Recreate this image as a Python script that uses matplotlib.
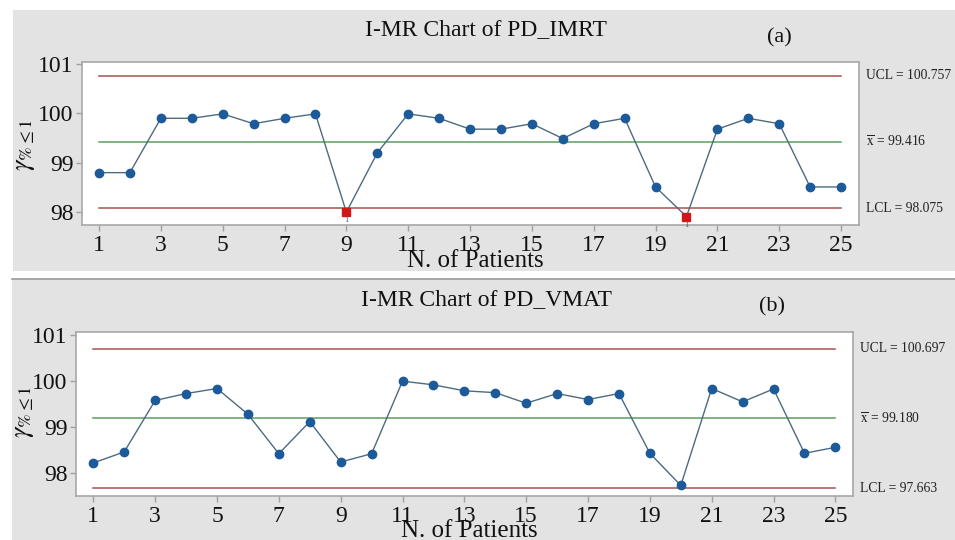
import matplotlib
matplotlib.use("Agg")
import matplotlib.pyplot as plt
from matplotlib.patches import Rectangle
import numpy as np

patients = list(range(1, 26))
imrt_values = [98.80, 98.80, 99.90, 99.90, 99.99, 99.79, 99.90, 99.99, 98.00, 99.20,
               99.99, 99.90, 99.68, 99.68, 99.79, 99.49, 99.79, 99.90, 98.51, 97.91,
               99.68, 99.90, 99.79, 98.51, 98.51]
vmat_values = [98.21, 98.45, 99.57, 99.72, 99.83, 99.27, 98.41, 99.11, 98.23, 98.41,
               99.99, 99.91, 99.78, 99.74, 99.51, 99.72, 99.59, 99.72, 98.42, 97.72,
               99.83, 99.54, 99.82, 98.42, 98.55]
imrt_limits = {"UCL": 100.757, "mean": 99.416, "LCL": 98.075}
vmat_limits = {"UCL": 100.697, "mean": 99.180, "LCL": 97.663}
imrt_out = [9, 20]
vmat_out = []
xticks = list(range(1, 26, 2))
yticks = [98, 99, 100, 101]
titles = ["I-MR Chart of PD_IMRT", "I-MR Chart of PD_VMAT"]
tags = ["(a)", "(b)"]

plt.rcParams["font.family"] = ["Liberation Serif", "DejaVu Serif"]
plt.rcParams["mathtext.fontset"] = "stix"

W, H = 955, 540
fig = plt.figure(figsize=(W / 100, H / 100), dpi=100)
fig.patch.set_facecolor("white")

def fx(px):
    return px / W

def fy(py):
    return 1 - py / H

bg = "#e3e3e3"
fig.patches.append(Rectangle((fx(13), fy(271)), fx(955 - 13), (271 - 10) / H,
                             transform=fig.transFigure, facecolor=bg, edgecolor="none", zorder=-10))
fig.patches.append(Rectangle((fx(12), 0), fx(955 - 12), (540 - 279) / H,
                             transform=fig.transFigure, facecolor=bg, edgecolor="none", zorder=-10))
fig.lines.append(plt.Line2D([fx(12), 1], [fy(279), fy(279)], transform=fig.transFigure,
                            color="#9a9a9a", lw=1.2))

panels = [
    dict(vals=imrt_values, lim=imrt_limits, out=imrt_out,
         box=(82, 62, 859, 225), xlim=(0.45, 25.58), ylim=(97.74, 101.04),
         title_xy=(486, 30), tag_xy=(779, 38), label_x=866,
         xlabel_xy=(475, 261), ylabel_xy=(26, 145)),
    dict(vals=vmat_values, lim=vmat_limits, out=vmat_out,
         box=(76, 332, 853, 496), xlim=(0.44, 25.57), ylim=(97.49, 101.06),
         title_xy=(486, 300), tag_xy=(772, 307), label_x=860,
         xlabel_xy=(469, 531), ylabel_xy=(25, 412)),
]

red_line = "#a4524f"
green_line = "#5c9e63"
for i, p in enumerate(panels):
    l, t, r, b = p["box"]
    ax = fig.add_axes([fx(l), fy(b), fx(r - l), (b - t) / H])
    ax.set_facecolor("white")
    x = np.array(patients)
    y = np.array(p["vals"])
    lim = p["lim"]
    ax.plot([1, 25], [lim["UCL"]] * 2, color=red_line, lw=1.1, zorder=1)
    ax.plot([1, 25], [lim["LCL"]] * 2, color=red_line, lw=1.1, zorder=1)
    ax.plot([1, 25], [lim["mean"]] * 2, color=green_line, lw=1.1, zorder=1)
    ax.plot(x, y, color="#4d6b7f", lw=1.0, zorder=2)
    mask = np.isin(x, p["out"])
    ax.plot(x[~mask], y[~mask], "o", color="#1d5a99", ms=6, mec="#1d5a99", zorder=3)
    if mask.any():
        ax.plot(x[mask], y[mask], "s", color="#d01818", ms=6, mec="#d01818", zorder=4)
        for xx, yy in zip(x[mask], y[mask]):
            ax.text(xx, yy - 0.08, "1", ha="center", va="top", fontsize=6,
                    color="#555555", clip_on=False, zorder=4)
    ax.set_xlim(*p["xlim"])
    ax.set_ylim(*p["ylim"])
    ax.set_xticks(xticks)
    ax.set_yticks(yticks)
    ax.tick_params(axis="both", direction="out", length=4, width=1, color="#a0a0a0",
                   labelsize=17, labelcolor="#111111")
    ax.tick_params(axis="x", pad=3)
    ax.tick_params(axis="y", pad=2)
    for s in ax.spines.values():
        s.set_color("#a8a8a8")
        s.set_linewidth(1.2)

    fig.text(fx(p["title_xy"][0]), fy(p["title_xy"][1]), titles[i], ha="center", va="center",
             fontsize=17, color="#111111")
    fig.text(fx(p["tag_xy"][0]), fy(p["tag_xy"][1]), tags[i], ha="center", va="center",
             fontsize=16, color="#111111")
    fig.text(fx(p["xlabel_xy"][0]), fy(p["xlabel_xy"][1]), "N. of Patients", ha="center",
             va="center", fontsize=18, color="#111111")
    fig.text(fx(p["ylabel_xy"][0]), fy(p["ylabel_xy"][1]), r"$\gamma_{\%\leq 1}$", ha="center",
             va="center", fontsize=19, rotation=90, color="#111111")
    lx = fx(p["label_x"])
    for key, txt in [("UCL", "UCL = %.3f" % lim["UCL"]),
                     ("mean", r"$\overline{\mathrm{x}}$ = %.3f" % lim["mean"]),
                     ("LCL", "LCL = %.3f" % lim["LCL"])]:
        ydisp = ax.transData.transform((1, lim[key]))[1]
        yfig = fig.transFigure.inverted().transform((0, ydisp))[1]
        fig.text(lx, yfig, txt, ha="left", va="center", fontsize=9.8, color="#222222")

fig.savefig("out.png", dpi=100)
